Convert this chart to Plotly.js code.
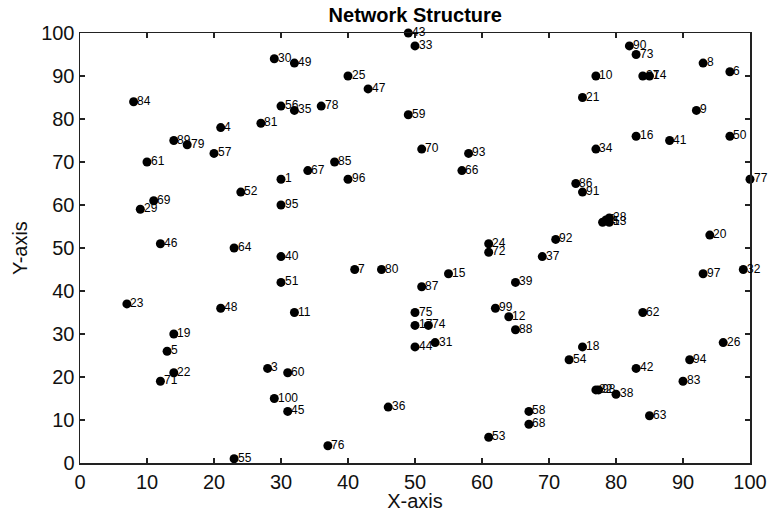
<!DOCTYPE html>
<html>
<head>
<meta charset="utf-8">
<script src="https://cdn.plot.ly/plotly-3.0.1.min.js"></script>
<style>
html,body{margin:0;padding:0;background:#fff;}
#chart{width:769px;height:512px;}
</style>
</head>
<body>
<div id="chart"></div>
<script>
const nodeLabels = [
 "1","2","3","4","5","6","7","8","9","10",
 "11","12","13","14","15","16","17","18","19","20",
 "21","22","23","24","25","26","27","28","29","30",
 "31","32","33","34","35","36","37","38","39","40",
 "41","42","43","44","45","46","47","48","49","50",
 "51","52","53","54","55","56","57","58","59","60",
 "61","62","63","64","65","66","67","68","69","70",
 "71","72","73","74","75","76","77","78","79","80",
 "81","82","83","84","85","86","87","88","89","90",
 "91","92","93","94","95","96","97","98","99","100"
];
const nodeX = [
 30, 78.5, 28, 21, 13, 97, 41, 93, 92, 77,
 32, 64, 79, 85, 55, 83, 50, 75, 14, 94,
 75, 14, 7, 61, 40, 96, 84, 79, 9, 29,
 53, 99, 50, 77, 32, 46, 69, 80, 65, 30,
 88, 83, 49, 50, 31, 12, 43, 21, 32, 97,
 30, 24, 61, 73, 23, 30, 20, 67, 49, 31,
 10, 84, 85, 23, 78, 57, 34, 67, 11, 51,
 12, 61, 83, 52, 50, 37, 100, 36, 16, 45,
 27, 77, 90, 8, 38, 74, 51, 65, 14, 82,
 75, 71, 58, 91, 30, 40, 93, 77.4, 62, 29
];
const nodeY = [
 66, 56.5, 22, 78, 26, 91, 45, 93, 82, 90,
 35, 34, 56, 90, 44, 76, 32, 27, 30, 53,
 85, 21, 37, 51, 90, 28, 90, 57, 59, 94,
 28, 45, 97, 73, 82, 13, 48, 16, 42, 48,
 75, 22, 100, 27, 12, 51, 87, 36, 93, 76,
 42, 63, 6, 24, 1, 83, 72, 12, 81, 21,
 70, 35, 11, 50, 56, 68, 68, 9, 61, 73,
 19, 49, 95, 32, 35, 4, 66, 83, 74, 45,
 79, 17, 19, 84, 70, 65, 41, 31, 75, 97,
 63, 52, 72, 24, 60, 66, 44, 17, 36, 15
];
const tickVals = [0,10,20,30,40,50,60,70,80,90,100];

const FONT = "Arial, 'Liberation Sans', Helvetica, sans-serif";

const dotTrace = {
  x: nodeX, y: nodeY,
  mode: 'markers', type: 'scatter',
  marker: {color: '#000', size: 9},
  cliponaxis: false, showlegend: false
};

const labelAnnotations = nodeLabels.map((t, i) => ({
  x: nodeX[i], y: nodeY[i], xref: 'x', yref: 'y',
  text: t, showarrow: false,
  xanchor: 'left', yanchor: 'middle',
  xshift: 1.5, yshift: 1,
  font: {family: FONT, size: 12, color: '#000'}
}));

const axisCommon = {
  range: [0, 100],
  tickvals: tickVals,
  ticktext: tickVals.map(String),
  ticks: 'inside', ticklen: 5, tickwidth: 1.5, tickcolor: '#222',
  showline: true, linecolor: '#222', linewidth: 1.5,
  mirror: 'ticks', showgrid: false, zeroline: false,
  tickfont: {family: FONT, size: 20, color: '#111'}
};

const layout = {
  width: 769, height: 512,
  margin: {l: 80, r: 19, t: 33, b: 49},
  paper_bgcolor: '#fff', plot_bgcolor: '#fff',
  title: {text: '<b>Network Structure</b>', x: 0.54, xanchor: 'center', y: 0.985, yanchor: 'top',
          font: {family: FONT, size: 20, color: '#000'}},
  xaxis: Object.assign({}, axisCommon, {title: {text: 'X-axis', standoff: 4, font: {family: FONT, size: 20, color: '#111'}}}),
  yaxis: Object.assign({}, axisCommon, {title: {text: 'Y-axis', standoff: 8, font: {family: FONT, size: 20, color: '#111'}}}),
  annotations: labelAnnotations,
  showlegend: false
};

Plotly.newPlot('chart', [dotTrace], layout, {displayModeBar: false, staticPlot: true});
</script>
</body>
</html>
